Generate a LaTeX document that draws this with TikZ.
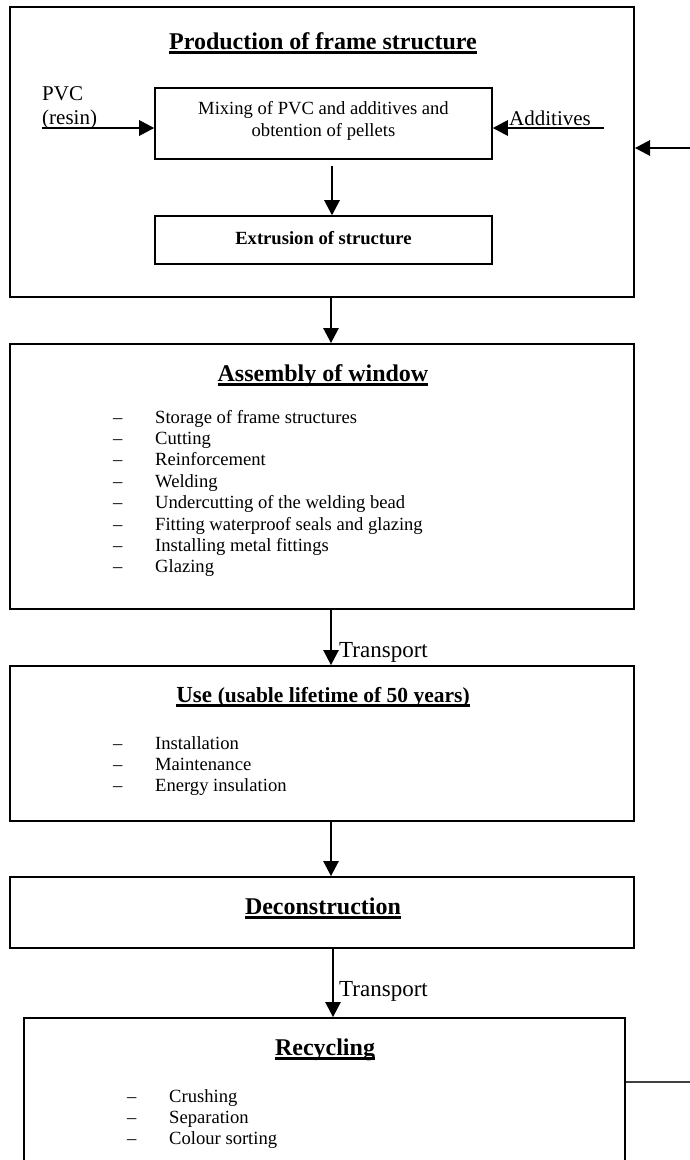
\documentclass[tikz,border=0pt]{standalone}
\usepackage{fontspec}
\setmainfont{Liberation Serif}
\usetikzlibrary{arrows.meta}
\newcommand\ulttl[1]{\setbox0\hbox{#1}\rlap{\rule[-4.5pt]{\wd0}{2.2pt}}\box0}
\newcommand\itm[1]{\makebox[42pt][l]{–}#1}
\begin{document}
\begin{tikzpicture}[x=1pt,y=-1pt,
  bigbox/.style={draw,line width=2pt,inner sep=0pt,minimum width=624pt},
  subbox/.style={draw,line width=1.6pt,inner sep=0pt,minimum width=337pt},
  arr/.style={line width=1.3pt,-{Triangle[length=15pt,width=15.5pt]}},
  ttl/.style={anchor=base,inner sep=0pt,font=\fontsize{24}{28}\selectfont\bfseries},
  body/.style={anchor=base,inner sep=0pt,font=\fontsize{18.6}{21.4}\selectfont},
  item/.style={anchor=base west,inner sep=0pt,font=\fontsize{18.6}{21.4}\selectfont},
  lbl/.style={anchor=base west,inner sep=0pt,font=\fontsize{23}{26}\selectfont},
  side/.style={anchor=base west,inner sep=0pt,font=\fontsize{21}{24}\selectfont}]
\useasboundingbox (0,0) rectangle (690,1160);
\clip (0,0) rectangle (690,1160);

% ---- boxes
\node[bigbox,minimum height=290pt] (p1) at (322,152) {};
\node[subbox,minimum height=71pt] (mix) at (323.5,123.5) {};
\node[subbox,minimum height=48pt] (ext) at (323.5,240) {};
\node[bigbox,minimum height=265pt] (p2) at (322,476.5) {};
\node[bigbox,minimum height=155pt] (p3) at (322,743.5) {};
\node[bigbox,minimum height=71pt] (p4) at (322,912.5) {};
\node[draw,line width=2pt,inner sep=0pt,minimum width=601pt,minimum height=182pt] (p5) at (324.5,1109) {};

% ---- titles
\node[ttl] (t1) at (323,49) {\ulttl{Production of frame structure}};
\node[ttl] (t2) at (323,381) {\ulttl{Assembly of window}};
\node[anchor=base,inner sep=0pt,font=\bfseries] (t3) at (323,702)
  {\ulttl{\fontsize{23}{27}\selectfont Use \fontsize{21.5}{25}\selectfont(usable lifetime of 50 years)}};
\node[ttl] (t4) at (323,914) {\ulttl{Deconstruction}};
\node[ttl] (t5) at (325,1055) {\ulttl{Recycling}};

% ---- texts in the first box
\node[body] (m1) at (323.5,114) {Mixing of PVC and additives and};
\node[body] (m2) at (323.5,136) {obtention of pellets};
\node[body,font=\fontsize{18.6}{21.4}\selectfont\bfseries] (e1) at (323.5,244) {Extrusion of structure};
\node[side] (pvc1) at (42,100) {PVC};
\node[side] (pvc2) at (42,124) {(resin)};
\node[side] (add) at (509,125) {Additives};

% ---- lists
\foreach \t [count=\i from 0] in {Storage of frame structures,Cutting,Reinforcement,Welding,Undercutting of the welding bead,Fitting waterproof seals and glazing,Installing metal fittings,Glazing}
  \node[item] (as\i) at (113,{423+21.4*\i}) {\itm{\t}};
\foreach \t [count=\i from 0] in {Installation,Maintenance,Energy insulation}
  \node[item] (us\i) at (113,{749+21.4*\i}) {\itm{\t}};
\foreach \t [count=\i from 0] in {Crushing,Separation,Colour sorting}
  \node[item] (rc\i) at (127,{1102+21.4*\i}) {\itm{\t}};

% ---- connectors
\coordinate (pvcs) at (42,128);
\coordinate (adds) at (604,128);
\coordinate (fbin) at (690,148);
\coordinate (fbout) at (690,1082);
\coordinate (cx) at (331,0);
\coordinate (cm) at (332,0);
\coordinate (cz) at (333,0);

\draw[arr] (pvcs) -- (pvcs -| mix.west);
\draw[arr] (adds) -- (adds -| mix.east);
\draw[arr] (mix.south -| cm) ++(0,6) -- (ext.north -| cm);
\draw[arr] (fbin) -- (fbin -| p1.east);
\draw[arr] (p1.south -| cx) -- (p2.north -| cx);
\draw[arr] (p2.south -| cx) -- (p3.north -| cx);
\draw[arr] (p3.south -| cx) -- (p4.north -| cx);
\draw[arr] (p4.south -| cz) -- (p5.north -| cz);
\draw[line width=1.5pt,black!75] (fbout -| p5.east) -- (fbout);

\node[lbl] (tr1) at (339,657) {Transport};
\node[lbl] (tr2) at (339,996) {Transport};
\end{tikzpicture}
\end{document}
